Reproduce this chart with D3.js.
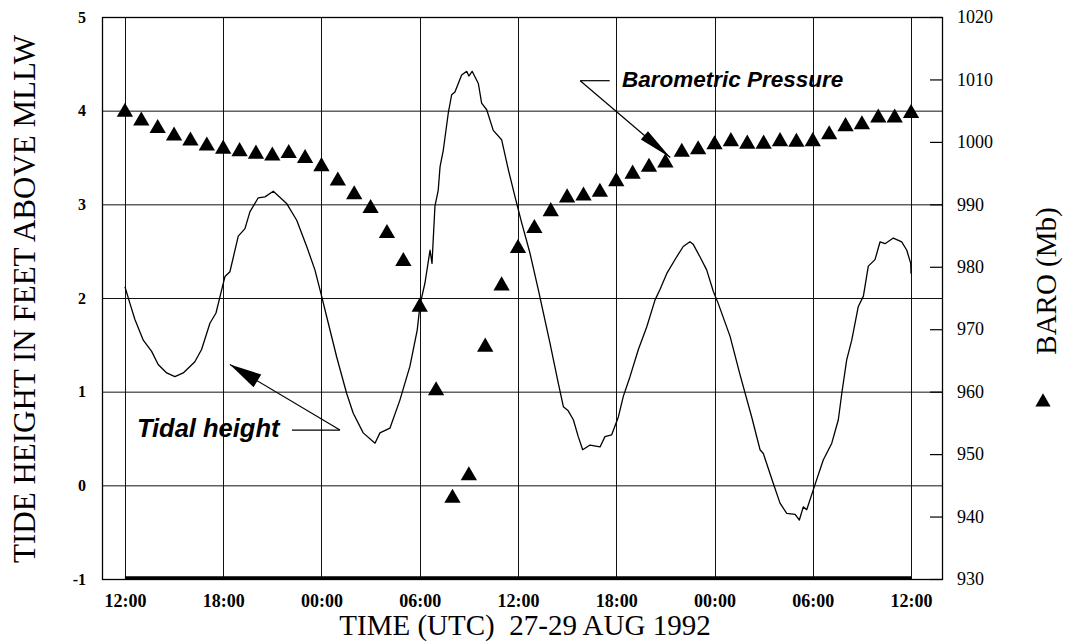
<!DOCTYPE html>
<html>
<head>
<meta charset="utf-8">
<script src="https://cdn.jsdelivr.net/npm/d3@7"></script>
<style>
  html, body { margin: 0; padding: 0; background: #fff; }
  svg { display: block; }
</style>
</head>
<body>
<svg id="chart" width="1068" height="644"></svg>
<script>
// ---------------- DATA ----------------
// Hours since 12:00 UTC 27 Aug 1992
const tideHours = [0.0,0.31,0.61,1.12,1.63,2.03,2.55,3.05,3.56,4.27,4.68,5.19,5.56,5.91,6.11,6.41,6.92,7.33,7.63,8.14,8.55,9.06,9.87,10.49,11.10,11.60,12.01,12.32,12.93,13.54,13.94,14.55,15.27,15.57,16.18,16.79,17.40,17.85,18.02,18.32,18.63,18.75,18.93,19.13,19.24,19.44,19.74,19.95,20.15,20.56,20.87,21.0,21.2,21.58,21.78,22.09,22.49,23.00,23.41,23.82,24.23,24.73,25.24,25.55,25.95,26.46,26.77,27.05,27.38,27.68,27.95,28.40,29.01,29.31,29.72,30.13,30.43,30.84,31.35,31.86,32.37,32.67,33.08,33.69,34.09,34.50,34.71,35.11,35.52,35.93,36.23,36.95,37.56,38.27,38.78,38.98,39.59,40.00,40.41,40.92,41.18,41.42,41.63,42.14,42.64,43.16,43.56,43.77,44.07,44.38,44.78,45.09,45.39,45.80,46.11,46.41,46.92,47.43,47.74,47.98,48.00];
const tideFeet = [2.12,1.94,1.77,1.55,1.43,1.29,1.20,1.16,1.20,1.32,1.45,1.73,1.84,2.09,2.23,2.28,2.66,2.74,2.92,3.07,3.08,3.14,3.01,2.83,2.55,2.30,2.02,1.80,1.37,0.98,0.77,0.56,0.45,0.56,0.61,0.91,1.27,1.66,1.93,2.16,2.51,2.37,2.98,3.15,3.40,3.58,3.97,4.17,4.20,4.38,4.42,4.37,4.42,4.29,4.08,4.01,3.79,3.69,3.37,3.08,2.80,2.48,2.09,1.84,1.52,1.09,0.84,0.80,0.70,0.52,0.38,0.43,0.41,0.52,0.54,0.73,0.95,1.16,1.45,1.69,1.98,2.09,2.26,2.44,2.55,2.60,2.57,2.44,2.30,2.07,1.94,1.59,1.18,0.73,0.38,0.34,0.02,-0.19,-0.30,-0.31,-0.37,-0.23,-0.26,0.01,0.27,0.45,0.70,0.98,1.34,1.55,1.91,2.02,2.34,2.41,2.60,2.58,2.64,2.60,2.51,2.37,2.26];

// Hourly barometric pressure (mb), 12:00 27 Aug to 12:00 29 Aug
const baroHours = d3.range(0, 49);
const baroMb = [1005.0,1003.6,1002.4,1001.2,1000.4,999.6,999.1,998.7,998.3,998.0,998.4,997.6,996.3,994.0,991.8,989.6,985.6,981.1,973.8,960.4,943.2,946.8,967.4,977.2,983.2,986.4,989.1,991.3,991.6,992.2,993.9,995.1,996.2,996.9,998.6,999.0,999.8,1000.3,999.9,999.9,1000.3,1000.2,1000.3,1001.4,1002.7,1003.0,1004.1,1004.1,1004.8];

const leftTicks = [-1, 0, 1, 2, 3, 4, 5];
const rightTicks = [930, 940, 950, 960, 970, 980, 990, 1000, 1010, 1020];
const timeTickHours = [0, 6, 12, 18, 24, 30, 36, 42, 48];

const startMs = Date.UTC(1992, 7, 27, 12);
const HOUR = 3600 * 1000;
const toDate = h => new Date(startMs + h * HOUR);

// ---------------- LAYOUT ----------------
const svg = d3.select("#chart");
const L = 102, R = 942, T = 17, B = 579;

const x = d3.scaleUtc().domain([toDate(-1.40), toDate(49.89)]).range([L, R]);
const yL = d3.scaleLinear().domain([-1, 5]).range([B, T]);
const yR = d3.scaleLinear().domain([930, 1020]).range([B, T]);

const serif = "'Liberation Serif', 'Times New Roman', serif";
const sans = "'Liberation Sans', Arial, sans-serif";

// Grid
const grid = svg.append("g").attr("stroke", "#111").attr("stroke-width", 1).attr("fill", "none");
grid.selectAll("line.h").data(leftTicks).join("line")
  .attr("x1", L).attr("x2", R)
  .attr("y1", d => yL(d) + 0.5).attr("y2", d => yL(d) + 0.5);
grid.selectAll("line.v").data(timeTickHours).join("line")
  .attr("x1", d => Math.round(x(toDate(d))) + 0.5).attr("x2", d => Math.round(x(toDate(d))) + 0.5)
  .attr("y1", T).attr("y2", B);

// Frame
svg.append("rect").attr("x", L + 0.5).attr("y", T + 0.5).attr("width", R - L).attr("height", B - T)
  .attr("fill", "none").attr("stroke", "#000").attr("stroke-width", 1.3);

// Thick baseline trace at bottom
svg.append("line")
  .attr("x1", x(toDate(0))).attr("x2", x(toDate(48)))
  .attr("y1", yL(-1) - 1).attr("y2", yL(-1) - 1)
  .attr("stroke", "#000").attr("stroke-width", 3.5);

// Left axis
const axL = svg.append("g").attr("transform", `translate(${L},0)`)
  .call(d3.axisLeft(yL).tickValues(leftTicks).tickSize(0).tickPadding(16).tickFormat(d => String(d)));
axL.select(".domain").remove();
axL.selectAll("text").attr("font-family", serif).attr("font-weight", "bold").attr("font-size", 16).attr("fill", "#000");

// Right axis
const axR = svg.append("g").attr("transform", `translate(${R},0)`)
  .call(d3.axisRight(yR).tickValues(rightTicks).tickSizeInner(-12).tickSizeOuter(0).tickPadding(15).tickFormat(d => String(d)));
axR.select(".domain").remove();
axR.selectAll("line").attr("stroke", "#000").attr("stroke-width", 1.2);
axR.selectAll("text").attr("font-family", serif).attr("font-size", 18).attr("fill", "#000");

// Bottom axis
const axB = svg.append("g").attr("transform", `translate(0,${B})`)
  .call(d3.axisBottom(x).tickValues(timeTickHours.map(toDate)).tickSize(0).tickPadding(15).tickFormat(d3.utcFormat("%H:%M")));
axB.select(".domain").remove();
axB.selectAll("text").attr("font-family", serif).attr("font-weight", "bold").attr("font-size", 18).attr("fill", "#000");

// Tide line
const tideData = tideHours.map((h, i) => ({ t: toDate(h), v: tideFeet[i] }));
svg.append("path").datum(tideData)
  .attr("fill", "none").attr("stroke", "#000").attr("stroke-width", 1.3).attr("stroke-linejoin", "round")
  .attr("d", d3.line().x(d => x(d.t)).y(d => yL(d.v)));

// Barometric triangles
const baroData = baroHours.map((h, i) => ({ t: toDate(h), v: baroMb[i] }));
svg.append("g").selectAll("path").data(baroData).join("path")
  .attr("transform", d => `translate(${x(d.t)},${yR(d.v) + 1.5})`)
  .attr("d", d3.symbol(d3.symbolTriangle, 115))
  .attr("fill", "#000");

// Titles
svg.append("text")
  .attr("transform", `translate(35,${(T + B) / 2 + 1}) rotate(-90)`)
  .attr("text-anchor", "middle").attr("font-family", serif).attr("font-size", 31).attr("fill", "#000")
  .text("TIDE HEIGHT IN FEET ABOVE MLLW");

svg.append("text")
  .attr("x", 525).attr("y", 635)
  .attr("text-anchor", "middle").attr("font-family", serif).attr("font-size", 29).attr("fill", "#000")
  .style("white-space", "pre")
  .text("TIME (UTC)  27-29 AUG 1992");

svg.append("text")
  .attr("transform", `translate(1056,281) rotate(-90)`)
  .attr("text-anchor", "middle").attr("font-family", serif).attr("font-size", 29).attr("fill", "#000")
  .text("BARO (Mb)");
svg.append("path")
  .attr("transform", "translate(1043,402)")
  .attr("d", d3.symbol(d3.symbolTriangle, 100)).attr("fill", "#000");

// Annotations (in data units)
function arrowHead(x1, y1, x2, y2, len, wid) {
  const a = Math.atan2(y2 - y1, x2 - x1);
  const bx = x2 - len * Math.cos(a), by = y2 - len * Math.sin(a);
  const px = -Math.sin(a) * wid / 2, py = Math.cos(a) * wid / 2;
  return `M${x2},${y2}L${bx + px},${by + py}L${bx - px},${by - py}Z`;
}
const ann = svg.append("g").attr("stroke", "#000").attr("stroke-width", 1.2);

// Barometric Pressure
const bLeadStart = [x(toDate(27.8)), yL(4.32)];
const bLeadEnd = [x(toDate(29.6)), yL(4.32)];
const bTip = [x(toDate(33.3)), yL(3.50)];
ann.append("line").attr("x1", bLeadStart[0]).attr("y1", bLeadStart[1]).attr("x2", bLeadEnd[0]).attr("y2", bLeadEnd[1]);
ann.append("line").attr("x1", bLeadStart[0]).attr("y1", bLeadStart[1]).attr("x2", bTip[0]).attr("y2", bTip[1]);
ann.append("path").attr("d", arrowHead(bLeadStart[0], bLeadStart[1], bTip[0], bTip[1], 34, 11)).attr("fill", "#000").attr("stroke", "none");
svg.append("text")
  .attr("x", x(toDate(30.35))).attr("y", yL(4.25))
  .attr("font-family", sans).attr("font-weight", "bold").attr("font-style", "italic").attr("font-size", 22.5)
  .attr("fill", "#000").text("Barometric Pressure");

// Tidal height
const tLeadStart = [x(toDate(10.2)), yL(0.59)];
const tLeadEnd = [x(toDate(13.13)), yL(0.59)];
const tTip = [x(toDate(6.41)), yL(1.29)];
ann.append("line").attr("x1", tLeadStart[0]).attr("y1", tLeadStart[1]).attr("x2", tLeadEnd[0]).attr("y2", tLeadEnd[1]);
ann.append("line").attr("x1", tLeadEnd[0]).attr("y1", tLeadEnd[1]).attr("x2", tTip[0]).attr("y2", tTip[1]);
ann.append("path").attr("d", arrowHead(tLeadEnd[0], tLeadEnd[1], tTip[0], tTip[1], 32, 15)).attr("fill", "#000").attr("stroke", "none");
svg.append("text")
  .attr("x", x(toDate(0.73))).attr("y", yL(0.518))
  .attr("font-family", sans).attr("font-weight", "bold").attr("font-style", "italic").attr("font-size", 25.5)
  .attr("fill", "#000").text("Tidal height");
</script>
</body>
</html>
